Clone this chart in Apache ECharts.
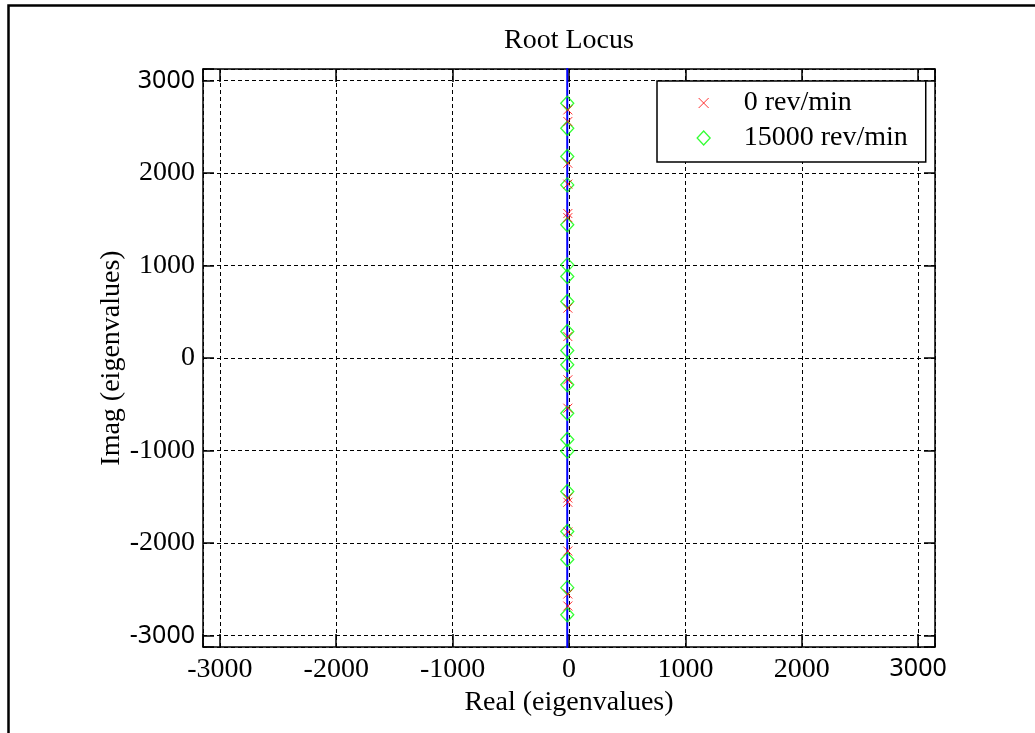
<!DOCTYPE html>
<html>
<head>
<meta charset="utf-8">
<title>Root Locus</title>
<script src="https://cdn.jsdelivr.net/npm/echarts@6/dist/echarts.min.js"></script>
<style>
  html, body { margin: 0; padding: 0; background: #fff; }
  #chart { width: 1035px; height: 733px; }
</style>
</head>
<body>
<div id="chart"></div>
<script>
// Eigenvalues of the rotor model, real and imaginary parts (rad/s)
const real0rpm = [-10, -10, -10, -10, -10, -10, -10, -10, -10, -10, -10, -10, -10, -10, -10, -10];
const imag0rpm = [2683, 2557, 2106, 1880, 1562, 1518, 539, 232, -236, -543, -1514, -1560, -1880, -2087, -2552, -2682];

const real15000rpm = [-15, -15, -15, -15, -15, -15, -15, -15, -15, -15, -15, -15, -15, -15, -15, -15, -15, -15, -15, -15];
const imag15000rpm = [2754, 2484, 2178, 1872, 1440, 1007, 881, 611, 286, 80, -73, -290, -597, -881, -1007, -1443, -1875, -2178, -2483, -2776];

// Locus path traced by the eigenvalues as speed increases
const locusReal = [-15, -15];
const locusImag = [-3300, 3300];

// Axis limits and tick labels
const realLimits = [-3145, 3145];
const imagLimits = [-3125, 3125];
const tickLabels = ['-3000', '-2000', '-1000', '0', '1000', '2000', '3000'];

const seriesNames = ['0 rev/min', '15000 rev/min'];

const pairs = (re, im) => re.map((r, i) => [r, im[i]]);

const SERIF = "'Liberation Serif', 'Times New Roman', serif";
const SANS = "'Noto Sans', 'Open Sans', sans-serif";
const FS = 28;

const RED = '#ff0000';
const GREEN = '#00ff00';

// Marker shapes; the legend versions carry a wide invisible box so the
// label sits well to the right of the marker.
const crossPath = 'path://M0,0L10,10M10,0L0,10';
const crossLegend = 'path://M0,0M42,15M2,2.5L12,12.5M12,2.5L2,12.5';
const diamondLegend = 'path://M0,0M42,15M7,0.5L13.5,7.5L7,14.5L0.5,7.5Z';

function tickText(v, sansSet) {
  const s = String(Math.round(v));
  if (tickLabels.indexOf(s) < 0 || Math.abs(v - Math.round(v)) > 1e-6) return '';
  return sansSet.indexOf(s) >= 0 ? '{s|' + s + '}' : s;
}

const dashed = { show: true, lineStyle: { color: '#000', width: 1, type: [4, 3] } };
const solidAxis = { show: true, onZero: false, lineStyle: { color: '#000', width: 1.5 } };

const chart = echarts.init(document.getElementById('chart'), null, { renderer: 'canvas' });

chart.setOption({
  animation: false,
  backgroundColor: '#fff',
  title: {
    text: 'Root Locus',
    left: 569,
    top: 27,
    padding: 0,
    textAlign: 'center',
    textStyle: { fontFamily: SERIF, fontSize: FS, fontWeight: 'normal', color: '#000' }
  },
  graphic: [{
    type: 'rect',
    left: 6, top: 3,
    shape: { width: 1045, height: 760 },
    style: { fill: 'none', stroke: '#000', lineWidth: 2.5 },
    silent: true,
    z: 100
  }],
  legend: {
    orient: 'vertical',
    left: 657,
    top: 81,
    padding: [8, 18, 10, 39],
    itemGap: 7,
    itemWidth: 42,
    itemHeight: 15,
    backgroundColor: '#fff',
    borderColor: '#000',
    borderWidth: 1.5,
    selectedMode: false,
    textStyle: { fontFamily: SERIF, fontSize: FS, color: '#000' },
    data: [
      { name: seriesNames[0], icon: crossLegend,
        itemStyle: { color: 'rgba(0,0,0,0)', borderColor: RED, borderWidth: 1 } },
      { name: seriesNames[1], icon: diamondLegend,
        itemStyle: { color: 'rgba(0,0,0,0)', borderColor: GREEN, borderWidth: 1.3 } }
    ]
  },
  grid: { left: 203, right: 100, top: 69, bottom: 86, containLabel: false },
  xAxis: [{
    type: 'value',
    min: realLimits[0], max: realLimits[1],
    minInterval: 1000, maxInterval: 1000, splitNumber: 6,
    name: 'Real (eigenvalues)',
    nameLocation: 'middle',
    nameGap: 37,
    nameTextStyle: { fontFamily: SERIF, fontSize: FS, color: '#000' },
    axisLine: solidAxis,
    axisTick: { show: true, inside: true, length: 13, lineStyle: { color: '#000', width: 1.5 } },
    axisLabel: {
      margin: 9, color: '#000', fontFamily: SERIF, fontSize: FS,
      formatter: v => tickText(v, ['3000']),
      rich: { s: { fontFamily: SANS, fontSize: 25, color: '#000' } }
    },
    splitLine: dashed
  }, {
    type: 'value', position: 'top',
    min: realLimits[0], max: realLimits[1],
    minInterval: 1000, maxInterval: 1000, splitNumber: 6,
    axisLine: solidAxis,
    axisTick: { show: true, inside: true, length: 13, lineStyle: { color: '#000', width: 1.5 } },
    axisLabel: { show: false },
    splitLine: { show: false }
  }],
  yAxis: [{
    type: 'value',
    min: imagLimits[0], max: imagLimits[1],
    minInterval: 1000, maxInterval: 1000, splitNumber: 6,
    name: 'Imag (eigenvalues)',
    nameLocation: 'middle',
    nameGap: 77,
    nameMoveOverlap: false,
    nameTextStyle: { fontFamily: SERIF, fontSize: FS, color: '#000' },
    axisLine: solidAxis,
    axisTick: { show: true, inside: true, length: 11, lineStyle: { color: '#000', width: 1.5 } },
    axisLabel: {
      margin: 8, color: '#000', fontFamily: SERIF, fontSize: FS,
      formatter: v => tickText(v, ['3000', '-3000']),
      rich: { s: { fontFamily: SANS, fontSize: 25, color: '#000' } }
    },
    splitLine: dashed
  }, {
    type: 'value', position: 'right',
    min: imagLimits[0], max: imagLimits[1],
    minInterval: 1000, maxInterval: 1000, splitNumber: 6,
    axisLine: solidAxis,
    axisTick: { show: true, inside: true, length: 11, lineStyle: { color: '#000', width: 1.5 } },
    axisLabel: { show: false },
    splitLine: { show: false }
  }],
  series: [{
    name: 'locus',
    type: 'line',
    xAxisIndex: 0, yAxisIndex: 0,
    data: pairs(locusReal, locusImag),
    showSymbol: false,
    symbol: 'none',
    lineStyle: { color: '#0000ff', width: 2 },
    silent: true,
    clip: true,
    z: 2
  }, {
    name: seriesNames[1],
    type: 'scatter',
    xAxisIndex: 0, yAxisIndex: 0,
    data: pairs(real15000rpm, imag15000rpm),
    symbol: 'diamond',
    symbolSize: [13, 14],
    itemStyle: { color: 'rgba(0,0,0,0)', borderColor: GREEN, borderWidth: 1.3 },
    silent: true,
    z: 3
  }, {
    name: seriesNames[0],
    type: 'scatter',
    xAxisIndex: 0, yAxisIndex: 0,
    data: pairs(real0rpm, imag0rpm),
    symbol: crossPath,
    symbolSize: 9,
    itemStyle: { color: 'rgba(0,0,0,0)', borderColor: RED, borderWidth: 1 },
    silent: true,
    z: 4
  }]
});
</script>
</body>
</html>
